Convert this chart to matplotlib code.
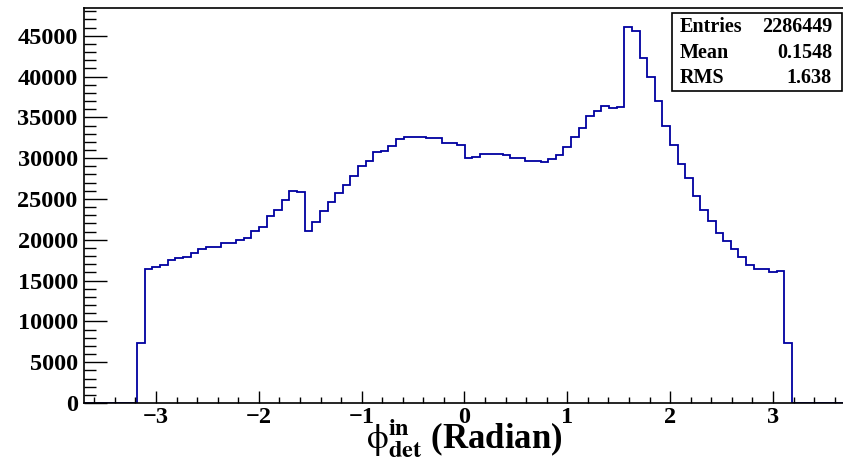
import numpy as np
import matplotlib
matplotlib.use("Agg")
import matplotlib.pyplot as plt
from matplotlib.patches import Rectangle
from matplotlib.ticker import MultipleLocator, FormatStrFormatter

# ===== DADOS =====
# 100 bins entre -3.7 e 3.7
x_min, x_max, n_bins = -3.7, 3.7, 100

contagens = [
    0, 0, 0, 0, 0, 0, 0,
    7400, 16400, 16700, 16850, 17500, 17800, 17900, 18330, 18900, 19100,
    19170, 19560, 19560, 20030, 20230, 21030, 21620, 22960, 23700, 24920,
    25960, 25880, 21090, 22230, 23490, 24670, 25770, 26770, 27770, 29070,
    29670, 30700, 30910, 31520, 32350, 32600, 32600, 32620, 32480, 32520,
    31850, 31820, 31640, 30030, 30200, 30520, 30500, 30540, 30440, 30070,
    29970, 29670, 29650, 29520, 29870, 30340, 31400, 32620, 33740, 35190,
    35760, 36350, 36150, 36250, 46100, 45580, 42320, 39950, 36960, 33960,
    31560, 29340, 27570, 25320, 23620, 22250, 20800, 19890, 18930, 17870,
    16910, 16460, 16360, 16020, 16180, 7350,
    0, 0, 0, 0, 0, 0, 0,
]

estat_nomes = ["Entries", "Mean", "RMS"]
estat_valores = ["2286449", "0.1548", "1.638"]

# ===== FIGURA =====
W, H = 843, 462
fig = plt.figure(figsize=(W / 100, H / 100), dpi=100)
plt.rcParams["mathtext.fontset"] = "stix"
fonte = "Liberation Serif"

# posição do quadro em pixels (esq, dir, topo, base)
px_l, px_r, px_t, px_b = 84, 845, 8, 403
ax = fig.add_axes([px_l / W, 1 - px_b / H, (px_r - px_l) / W, (px_b - px_t) / H])

bordas = np.linspace(x_min, x_max, n_bins + 1)
ax.stairs(contagens, bordas, color="#0000a0", lw=1.3)

ax.set_xlim(x_min, x_max)
ax.set_ylim(0, 48400)

ax.xaxis.set_major_locator(MultipleLocator(1))
ax.xaxis.set_minor_locator(MultipleLocator(0.2))
ax.yaxis.set_major_locator(MultipleLocator(5000))
ax.yaxis.set_minor_locator(MultipleLocator(1000))
ax.yaxis.set_major_formatter(FormatStrFormatter("%d"))

ax.tick_params(axis="both", which="both", direction="in", top=False, right=False,
               width=1, color="black")
ax.tick_params(axis="x", which="major", length=8.6, pad=3)
ax.tick_params(axis="x", which="minor", length=4.3)
ax.tick_params(axis="y", which="major", length=16.6, pad=4.5)
ax.tick_params(axis="y", which="minor", length=8.6)

for rot in ax.get_xticklabels() + ax.get_yticklabels():
    rot.set_fontfamily(fonte)
    rot.set_fontweight("bold")
    rot.set_fontsize(17.5)

for s in ax.spines.values():
    s.set_linewidth(1.2)
    s.set_color("black")

ax.set_xlabel(r"$\mathrm{\phi}^{\mathbf{in}}_{\mathbf{det}}$ (Radian)", fontfamily=fonte,
              fontweight="bold", fontsize=25, labelpad=-8)

# ===== CAIXA DE ESTATÍSTICAS =====
bx_l, bx_r, bx_t, bx_b = 672, 842, 13, 91
fig.add_artist(Rectangle((bx_l / W, 1 - bx_b / H), (bx_r - bx_l) / W, (bx_b - bx_t) / H,
                         transform=fig.transFigure, facecolor="white",
                         edgecolor="black", lw=1.2, zorder=5))
linhas_y = [26.7, 52.7, 78.3]
for nome, valor, yy in zip(estat_nomes, estat_valores, linhas_y):
    fig.text(680 / W, 1 - yy / H, nome, ha="left", va="center", fontfamily=fonte,
             fontweight="bold", fontsize=14.5, zorder=6)
    fig.text(832 / W, 1 - yy / H, valor, ha="right", va="center", fontfamily=fonte,
             fontweight="bold", fontsize=14.5, zorder=6)

fig.savefig("out.png", dpi=100)
